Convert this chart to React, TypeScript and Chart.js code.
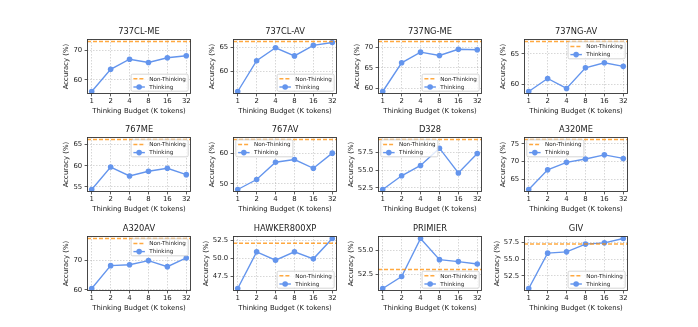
import React, { useEffect, useRef } from 'react';
import { Chart, registerables } from 'chart.js';

Chart.register(...registerables);

// ---------- data ----------
const budgetLabels = ['1', '2', '4', '8', '16', '32'];

const panelTitles = [
  '737CL-ME', '737CL-AV', '737NG-ME', '737NG-AV',
  '767ME', '767AV', 'D328', 'A320ME',
  'A320AV', 'HAWKER800XP', 'PRIMIER', 'GIV',
];

const thinking737CLME = [56.1, 63.6, 67.0, 65.9, 67.5, 68.2];
const thinking737CLAV = [55.8, 62.2, 64.9, 63.2, 65.4, 66.0];
const thinking737NGME = [59.2, 66.2, 68.8, 68.0, 69.5, 69.4];
const thinking737NGAV = [58.8, 60.95, 59.3, 62.7, 63.55, 62.95];
const thinking767ME = [54.4, 59.7, 57.6, 58.7, 59.4, 57.9];
const thinking767AV = [48.1, 51.4, 57.1, 58.0, 55.1, 60.1];
const thinkingD328 = [52.26, 54.2, 55.66, 58.1, 54.6, 57.36];
const thinkingA320ME = [62.2, 67.7, 69.8, 70.75, 71.9, 70.9];
const thinkingA320AV = [60.45, 68.2, 68.5, 69.9, 67.85, 70.8];
const thinkingHAWKER800XP = [45.76, 50.88, 49.72, 50.88, 49.9, 52.74];
const thinkingPRIMIER = [51.0, 52.25, 56.2, 54.0, 53.8, 53.55];
const thinkingGIV = [50.6, 55.9, 56.1, 57.26, 57.45, 58.1];

const nonThinking = [73.0, 66.2, 71.4, 67.05, 66.2, 64.6, 59.33, 76.2, 77.4, 52.08, 52.98, 57.26];

const yTicks737CLME = [60, 70];
const yTicks737CLAV = [60, 65];
const yTicks737NGME = [60, 65, 70];
const yTicks737NGAV = [60, 65];
const yTicks767ME = [55, 60, 65];
const yTicks767AV = [50, 60];
const yTicksD328 = [52.5, 55.0, 57.5];
const yTicksA320ME = [65, 70, 75];
const yTicksA320AV = [60, 70];
const yTicksHAWKER800XP = [47.5, 50.0, 52.5];
const yTicksPRIMIER = [52.5, 55.0];
const yTicksGIV = [52.5, 55.0, 57.5];

const thinkingSeries = [
  thinking737CLME, thinking737CLAV, thinking737NGME, thinking737NGAV,
  thinking767ME, thinking767AV, thinkingD328, thinkingA320ME,
  thinkingA320AV, thinkingHAWKER800XP, thinkingPRIMIER, thinkingGIV,
];
const yTickSets = [
  yTicks737CLME, yTicks737CLAV, yTicks737NGME, yTicks737NGAV,
  yTicks767ME, yTicks767AV, yTicksD328, yTicksA320ME,
  yTicksA320AV, yTicksHAWKER800XP, yTicksPRIMIER, yTicksGIV,
];

// ---------- layout / style ----------
const legendCorners = [
  'lower right', 'lower right', 'lower right', 'upper right',
  'upper right', 'upper left', 'upper left', 'upper left',
  'upper right', 'lower right', 'lower right', 'lower right',
];

const COL_LEFT = [87, 233, 378, 524];
const ROW_TOP = [39, 137, 236];
const BOX_W = 104;
const BOX_H = 55;
const PAD_L = 46;
const PAD_T = 16;
const PAD_B = 24;
const PAD_R = 6;

const FONT = '"DejaVu Sans", sans-serif';
const TEXT = '#1a1a1a';
const BLUE = '#6495ED';
const ORANGE = 'rgba(255,140,0,0.75)';
const GRID = 'rgba(0,0,0,0.2)';
const FRAME = '#333333';
const TICK_FS = 6.9;
const TITLE_FS = 8.3;
const LEGEND_FS = 5.6;

const framePlugin = {
  id: 'frame',
  afterDatasetsDraw(chart: any) {
    const { ctx, chartArea: a } = chart;
    ctx.save();
    ctx.strokeStyle = FRAME;
    ctx.lineWidth = 0.9;
    ctx.setLineDash([]);
    ctx.strokeRect(Math.round(a.left) + 0.5, Math.round(a.top) + 0.5,
      Math.round(a.right - a.left) - 1, Math.round(a.bottom - a.top) - 1);
    ctx.restore();
  },
};

const makeLegendPlugin = (corner: string) => ({
  id: 'innerLegend',
  afterDraw(chart: any) {
    const { ctx, chartArea: a } = chart;
    const ds = chart.data.datasets;
    ctx.save();
    ctx.font = `${LEGEND_FS}px ${FONT}`;
    const tw = Math.max(...ds.map((d: any) => ctx.measureText(d.label).width));
    const pad = 2.3, hl = 11.5, gap = 4.4, rowSep = 8.2;
    const w = pad + hl + gap + tw + pad;
    const h = 17;
    const inset = 2.8;
    const x = corner.includes('right') ? a.right - inset - w : a.left + inset;
    const y = corner.includes('upper') ? a.top + inset : a.bottom - inset - h;
    ctx.beginPath();
    if ((ctx as any).roundRect) (ctx as any).roundRect(x, y, w, h, 1.5);
    else ctx.rect(x, y, w, h);
    ctx.fillStyle = 'rgba(255,255,255,0.8)';
    ctx.fill();
    ctx.strokeStyle = '#cccccc';
    ctx.lineWidth = 0.8;
    ctx.stroke();
    ds.forEach((d: any, i: number) => {
      const cy = y + 4.6 + i * rowSep;
      ctx.beginPath();
      ctx.setLineDash(d.borderDash || []);
      ctx.strokeStyle = d.borderColor;
      ctx.lineWidth = d.borderWidth;
      ctx.moveTo(x + pad, cy);
      ctx.lineTo(x + pad + hl, cy);
      ctx.stroke();
      ctx.setLineDash([]);
      if (d.pointRadius) {
        ctx.beginPath();
        ctx.fillStyle = d.pointBackgroundColor;
        ctx.arc(x + pad + hl / 2, cy, d.pointRadius, 0, Math.PI * 2);
        ctx.fill();
      }
      ctx.fillStyle = TEXT;
      ctx.textBaseline = 'middle';
      ctx.textAlign = 'left';
      ctx.fillText(d.label, x + pad + hl + gap, cy + 0.3);
    });
    ctx.restore();
  },
});

function Panel({ idx }: { idx: number }) {
  const ref = useRef<HTMLCanvasElement>(null);
  const col = idx % 4;
  const row = Math.floor(idx / 4);
  const W = PAD_L + BOX_W + PAD_R;
  const H = PAD_T + BOX_H + PAD_B;
  const left = COL_LEFT[col] - PAD_L;
  const top = ROW_TOP[row] - PAD_T;

  useEffect(() => {
    const values = thinkingSeries[idx];
    const nt = nonThinking[idx];
    const all = [...values, nt];
    const lo = Math.min(...all);
    const hi = Math.max(...all);
    const m = (hi - lo) * 0.05;
    const yMin = lo - m;
    const yMax = hi + m;
    const xMin = -0.25;
    const xMax = budgetLabels.length - 1 + 0.25;
    const ticks = yTickSets[idx];
    const decimals = ticks.some((t) => !Number.isInteger(t)) ? 1 : 0;

    const mc = document.createElement('canvas').getContext('2d')!;
    mc.font = `${TICK_FS}px ${FONT}`;
    const lw = Math.max(...ticks.map((t) => mc.measureText(t.toFixed(decimals)).width));
    const yTitleCenter = 2.4 + 2.4 + lw + 2.8 + 4.0;
    const yTitlePad = Math.max(0, PAD_L - yTitleCenter - TICK_FS * 0.6);

    const tickFont = { family: FONT, size: TICK_FS };
    const chart = new Chart(ref.current!, {
      type: 'line',
      data: {
        datasets: [
          {
            label: 'Non-Thinking',
            data: [{ x: xMin, y: nt }, { x: xMax, y: nt }],
            borderColor: ORANGE,
            backgroundColor: ORANGE,
            borderDash: [4, 2],
            borderWidth: 1.5,
            pointRadius: 0,
            fill: false,
          },
          {
            label: 'Thinking',
            data: values.map((v, i) => ({ x: i, y: v })),
            borderColor: BLUE,
            backgroundColor: BLUE,
            pointBackgroundColor: BLUE,
            pointBorderColor: BLUE,
            borderWidth: 1.4,
            pointRadius: 2.8,
            pointBorderWidth: 0,
            fill: false,
          },
        ],
      } as any,
      options: {
        responsive: false,
        animation: false,
        devicePixelRatio: 1,
        layout: { padding: { left: 0, right: PAD_R, top: 0, bottom: 0 } },
        plugins: {
          legend: { display: false },
          tooltip: { enabled: false },
          title: {
            display: true,
            fullSize: false,
            text: panelTitles[idx],
            color: TEXT,
            font: { family: FONT, size: TITLE_FS, weight: 'normal', lineHeight: '10px' } as any,
            padding: { top: 4.3, bottom: 1.7 },
          },
        },
        scales: {
          x: {
            type: 'linear',
            min: xMin,
            max: xMax,
            afterBuildTicks: (s: any) => {
              s.ticks = budgetLabels.map((_, i) => ({ value: i }));
            },
            afterFit: (s: any) => {
              s.height = PAD_B;
            },
            ticks: {
              callback: (v: any) => budgetLabels[Math.round(v)],
              font: tickFont,
              color: TEXT,
              padding: 1,
              maxRotation: 0,
              autoSkip: false,
            },
            grid: { color: GRID, lineWidth: 0.8, tickColor: FRAME, tickLength: 2.4, tickWidth: 0.8 },
            border: { display: false, dash: [1.5, 1.5] },
            title: {
              display: true,
              text: 'Thinking Budget (K tokens)',
              color: TEXT,
              font: { family: FONT, size: TICK_FS },
              padding: { top: 0, bottom: 2.9 },
            },
          },
          y: {
            type: 'linear',
            min: yMin,
            max: yMax,
            afterBuildTicks: (s: any) => {
              s.ticks = ticks.map((v) => ({ value: v }));
            },
            afterFit: (s: any) => {
              s.width = PAD_L;
            },
            ticks: {
              callback: (v: any) => Number(v).toFixed(decimals),
              font: tickFont,
              color: TEXT,
              padding: 2.4,
            },
            grid: { color: GRID, lineWidth: 0.8, tickColor: FRAME, tickLength: 2.4, tickWidth: 0.8 },
            border: { display: false, dash: [1.5, 1.5] },
            title: {
              display: true,
              text: 'Accuracy (%)',
              color: TEXT,
              font: { family: FONT, size: TICK_FS },
              padding: { top: yTitlePad, bottom: 0 },
            },
          },
        },
      } as any,
      plugins: [framePlugin, makeLegendPlugin(legendCorners[idx])],
    });
    return () => chart.destroy();
  }, [idx]);

  return (
    <canvas
      ref={ref}
      width={W}
      height={H}
      style={{ position: 'absolute', left, top, width: W, height: H }}
    />
  );
}

export default function App() {
  return (
    <div style={{ position: 'absolute', left: 0, top: 0, width: 698, height: 327, background: '#ffffff' }}>
      {panelTitles.map((_, i) => (
        <Panel key={i} idx={i} />
      ))}
    </div>
  );
}
